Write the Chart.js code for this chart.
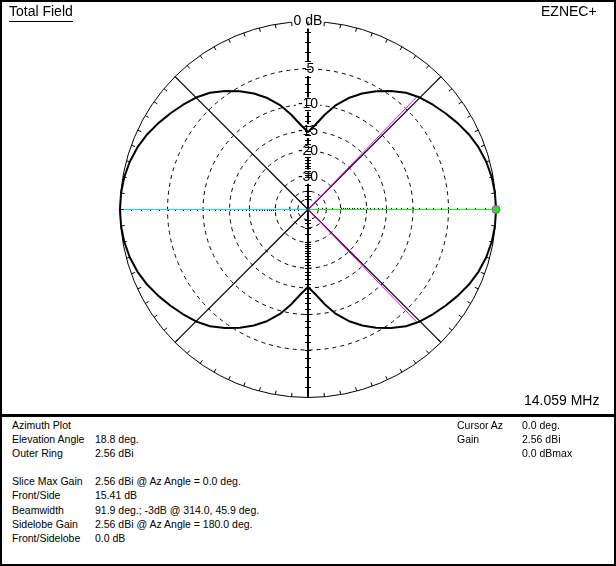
<!DOCTYPE html>
<html>
<head>
<meta charset="utf-8">
<script src="https://cdn.jsdelivr.net/npm/chart.js@4/dist/chart.umd.min.js"></script>
<style>
html,body{margin:0;padding:0;background:#fff;}
#frame{position:relative;width:616px;height:566px;overflow:hidden;font-family:"Liberation Sans",Arial,sans-serif;color:#000;background:#fff;}
#frame .bd{position:absolute;background:#000;}
#c{position:absolute;left:0;top:0;}
.t14{position:absolute;font-size:14px;line-height:14px;white-space:nowrap;}
.info{position:absolute;font-size:10.5px;line-height:14.1px;white-space:pre;}
</style>
</head>
<body>
<div id="frame">
  <canvas id="c" width="616" height="414"></canvas>
  <div class="t14" style="left:9px;top:4px;"><span style="display:inline-block;border-bottom:1px solid #000;padding-bottom:3px;">Total Field</span></div>
  <div class="t14" style="left:541px;top:4px;">EZNEC+</div>
  <div class="t14" style="left:524px;top:393px;">14.059 MHz</div>

  <div class="info" style="left:12px;top:418px;">Azimuth Plot
Elevation Angle
Outer Ring

Slice Max Gain
Front/Side
Beamwidth
Sidelobe Gain
Front/Sidelobe</div>
  <div class="info" style="left:95px;top:418px;"> 
18.8 deg.
2.56 dBi

2.56 dBi @ Az Angle = 0.0 deg.
15.41 dB
91.9 deg.; -3dB @ 314.0, 45.9 deg.
2.56 dBi @ Az Angle = 180.0 deg.
0.0 dB</div>
  <div class="info" style="left:457px;top:418px;">Cursor Az
Gain</div>
  <div class="info" style="left:522px;top:418px;">0.0 deg.
2.56 dBi
0.0 dBmax</div>

  <div class="bd" style="left:0;top:0;width:616px;height:2px;"></div>
  <div class="bd" style="left:0;top:564px;width:616px;height:2px;"></div>
  <div class="bd" style="left:0;top:0;width:2px;height:566px;"></div>
  <div class="bd" style="left:614px;top:0;width:2px;height:566px;"></div>
  <div class="bd" style="left:0;top:414px;width:616px;height:3px;"></div>
</div>

<script>
// ---- data (azimuth in degrees, gain in dB relative to outer ring 2.56 dBi) ----
const patternAz = [
  0, 5, 10, 15, 20, 25, 30, 35, 40, 45, 50, 55, 60, 65, 70, 75, 80, 85,
  90, 95, 100, 105, 110, 115, 120, 125, 130, 135, 140, 145, 150, 155, 160, 165, 170, 175,
  180, 185, 190, 195, 200, 205, 210, 215, 220, 225, 230, 235, 240, 245, 250, 255, 260, 265,
  270, 275, 280, 285, 290, 295, 300, 305, 310, 315, 320, 325, 330, 335, 340, 345, 350, 355
];
const patternDb = [
  0, -0.03, -0.13, -0.32, -0.6, -0.98, -1.45, -1.95, -2.45, -2.95, -3.6, -4.5, -5.5, -6.6, -7.9, -9.5, -11.5, -13.6,
  -15.2, -13.6, -11.5, -9.5, -7.9, -6.6, -5.5, -4.5, -3.6, -2.95, -2.45, -1.95, -1.45, -0.98, -0.6, -0.32, -0.13, -0.03,
  0, -0.03, -0.13, -0.32, -0.6, -0.98, -1.45, -1.95, -2.45, -2.95, -3.6, -4.5, -5.5, -6.6, -7.9, -9.5, -11.5, -13.6,
  -15.2, -13.6, -11.5, -9.5, -7.9, -6.6, -5.5, -4.5, -3.6, -2.95, -2.45, -1.95, -1.45, -0.98, -0.6, -0.32, -0.13, -0.03
];
const ringDb = [-60, -50, -40, -30, -20, -15, -10, -5, 0];
const ringLabels = ['', '', '', '-30', '-20', '-15', '-10', '-5', '0 dB'];
const axisTickDb = [-1,-2,-3,-4,-5,-6,-7,-8,-9,-10,-11,-12,-13,-14,-15,-16,-17,-18,-19,-20,
                    -21,-22,-23,-24,-25,-26,-27,-28,-29,-30,-35,-40,-45,-50];
const refLineAz = [45, 135, 225, 315];
const beamAz = [46, 314];     // -3 dB points 45.9 / 314.0 deg
const beamDb = -3;
const cursorAz = 0;
const cursorDb = 0;
const ringTickStep = 5;

// angular categories, in drawing order (clockwise from the top = azimuth 90)
const azimuthDeg = [];
for (let i = 0; i < 360; i++) azimuthDeg.push((450 - i) % 360);

const patternData = azimuthDeg.map(az => {
  const k = patternAz.indexOf(az);
  return k >= 0 ? patternDb[k] : null;
});
const cursorData = azimuthDeg.map(az => az === cursorAz ? cursorDb : null);

// ---- ARRL log-periodic radial scale ----
const RLS = Chart.RadialLinearScale || Chart.registry.getScale('radialLinear');
class ArrlRadialScale extends RLS {
  setDimensions() {
    super.setDimensions();
    this.xCenter = Math.floor(this.left + this.maxWidth / 2);
    this.yCenter = Math.floor(this.top + this.maxHeight / 2) + 0.5;
    this.drawingArea = Math.floor(Math.min(this.maxWidth, this.maxHeight) / 2);
  }
  getDistanceFromCenterForValue(value) {
    if (value === null || value === undefined || isNaN(value)) return NaN;
    return this.drawingArea * Math.pow(0.89, -value / 2);
  }
  getValueForDistanceFromCenter(distance) {
    return -2 * Math.log(distance / this.drawingArea) / Math.log(0.89);
  }
}
ArrlRadialScale.id = 'arrl';
ArrlRadialScale.defaults = {};
Chart.register(ArrlRadialScale);

function angleStyle(az) {
  if (az === 90 || az === 270) return ['#000000', 2];
  if (az === 0) return ['#00ff00', 1];
  if (az === 180) return ['#00e6ff', 1];
  if (refLineAz.includes(az)) return ['#000000', 1.2];
  return ['rgba(0,0,0,0)', 0];
}

const overlayPlugin = {
  id: 'eznecOverlay',
  beforeDatasetsDraw(chart) {
    const s = chart.scales.r;
    const ctx = chart.ctx;
    ctx.save();
    ctx.strokeStyle = '#000';
    ctx.fillStyle = '#000';
    ctx.lineWidth = 1;
    ctx.beginPath();
    const R = s.getDistanceFromCenterForValue(0);
    azimuthDeg.forEach((az, i) => {
      if (az % ringTickStep !== 0) return;
      const p1 = s.getPointPosition(i, R);
      const p2 = s.getPointPosition(i, R - 4);
      ctx.moveTo(p1.x, p1.y);
      ctx.lineTo(p2.x, p2.y);
    });
    axisTickDb.forEach(db => {
      const d = s.getDistanceFromCenterForValue(db);
      [90, 270].forEach(az => {
        const p = s.getPointPosition(azimuthDeg.indexOf(az), d);
        const y = Math.round(p.y) + 0.5;
        ctx.moveTo(p.x - 3, y);
        ctx.lineTo(p.x + 3, y);
      });
    });
    ctx.stroke();
    // small dots along the horizontal axis
    axisTickDb.forEach(db => {
      const d = s.getDistanceFromCenterForValue(db);
      const pl = s.getPointPosition(azimuthDeg.indexOf(180), d);
      ctx.fillRect(Math.round(pl.x), Math.floor(pl.y) + 1, 1, 1);
      const pr = s.getPointPosition(azimuthDeg.indexOf(0), d);
      ctx.fillRect(Math.round(pr.x), Math.floor(pr.y) - 1, 1, 1);
    });
    // -3 dB beamwidth lines
    ctx.strokeStyle = '#ff00ff';
    ctx.lineWidth = 1;
    beamAz.forEach(az => {
      const p = s.getPointPositionForValue(azimuthDeg.indexOf(az), beamDb);
      ctx.beginPath();
      ctx.moveTo(s.xCenter, s.yCenter);
      ctx.lineTo(p.x, p.y);
      ctx.stroke();
    });
    ctx.restore();
  }
};

new Chart(document.getElementById('c'), {
  type: 'radar',
  data: {
    labels: azimuthDeg,
    datasets: [
      {
        label: 'Cursor',
        data: cursorData,
        showLine: false,
        borderWidth: 0,
        pointRadius: 4,
        pointBackgroundColor: '#00ff00',
        pointBorderColor: '#ff00ff',
        pointBorderWidth: 1
      },
      {
        label: 'Total Field',
        data: patternData,
        borderColor: '#000000',
        borderWidth: 2,
        pointRadius: 0,
        fill: false,
        spanGaps: true,
        tension: 0
      }
    ]
  },
  options: {
    responsive: false,
    animation: false,
    devicePixelRatio: 1,
    layout: { padding: { left: 120, right: 120, top: 21, bottom: 17 } },
    plugins: { legend: { display: false }, tooltip: { enabled: false }, title: { display: false } },
    elements: { line: { borderJoinStyle: 'round' } },
    scales: {
      r: {
        type: 'arrl',
        min: -60,
        max: 0,
        afterBuildTicks: (scale) => { scale.ticks = ringDb.map(v => ({ value: v })); },
        ticks: {
          display: true,
          callback: (v) => { const k = ringDb.indexOf(v); return k >= 0 ? ringLabels[k] : ''; },
          font: { family: 'Liberation Sans', size: 14 },
          color: '#000000',
          backdropColor: '#ffffff',
          backdropPadding: { left: 2, right: 2, top: 0, bottom: 0 },
          showLabelBackdrop: (ctx) => { const k = ringDb.indexOf(ctx.tick ? ctx.tick.value : NaN); return k >= 0 && ringLabels[k] !== ''; }
        },
        grid: {
          circular: true,
          color: (ctx) => (ctx.tick && ctx.tick.value === -60) ? 'rgba(0,0,0,0)' : '#000000',
          lineWidth: 1
        },
        border: {
          dash: (ctx) => (ctx.tick && ctx.tick.value === 0) ? [] : [4, 4]
        },
        angleLines: {
          display: true,
          color: (ctx) => angleStyle(azimuthDeg[ctx.index])[0],
          lineWidth: (ctx) => angleStyle(azimuthDeg[ctx.index])[1]
        },
        pointLabels: { display: false }
      }
    }
  },
  plugins: [overlayPlugin]
});
</script>
</body>
</html>
